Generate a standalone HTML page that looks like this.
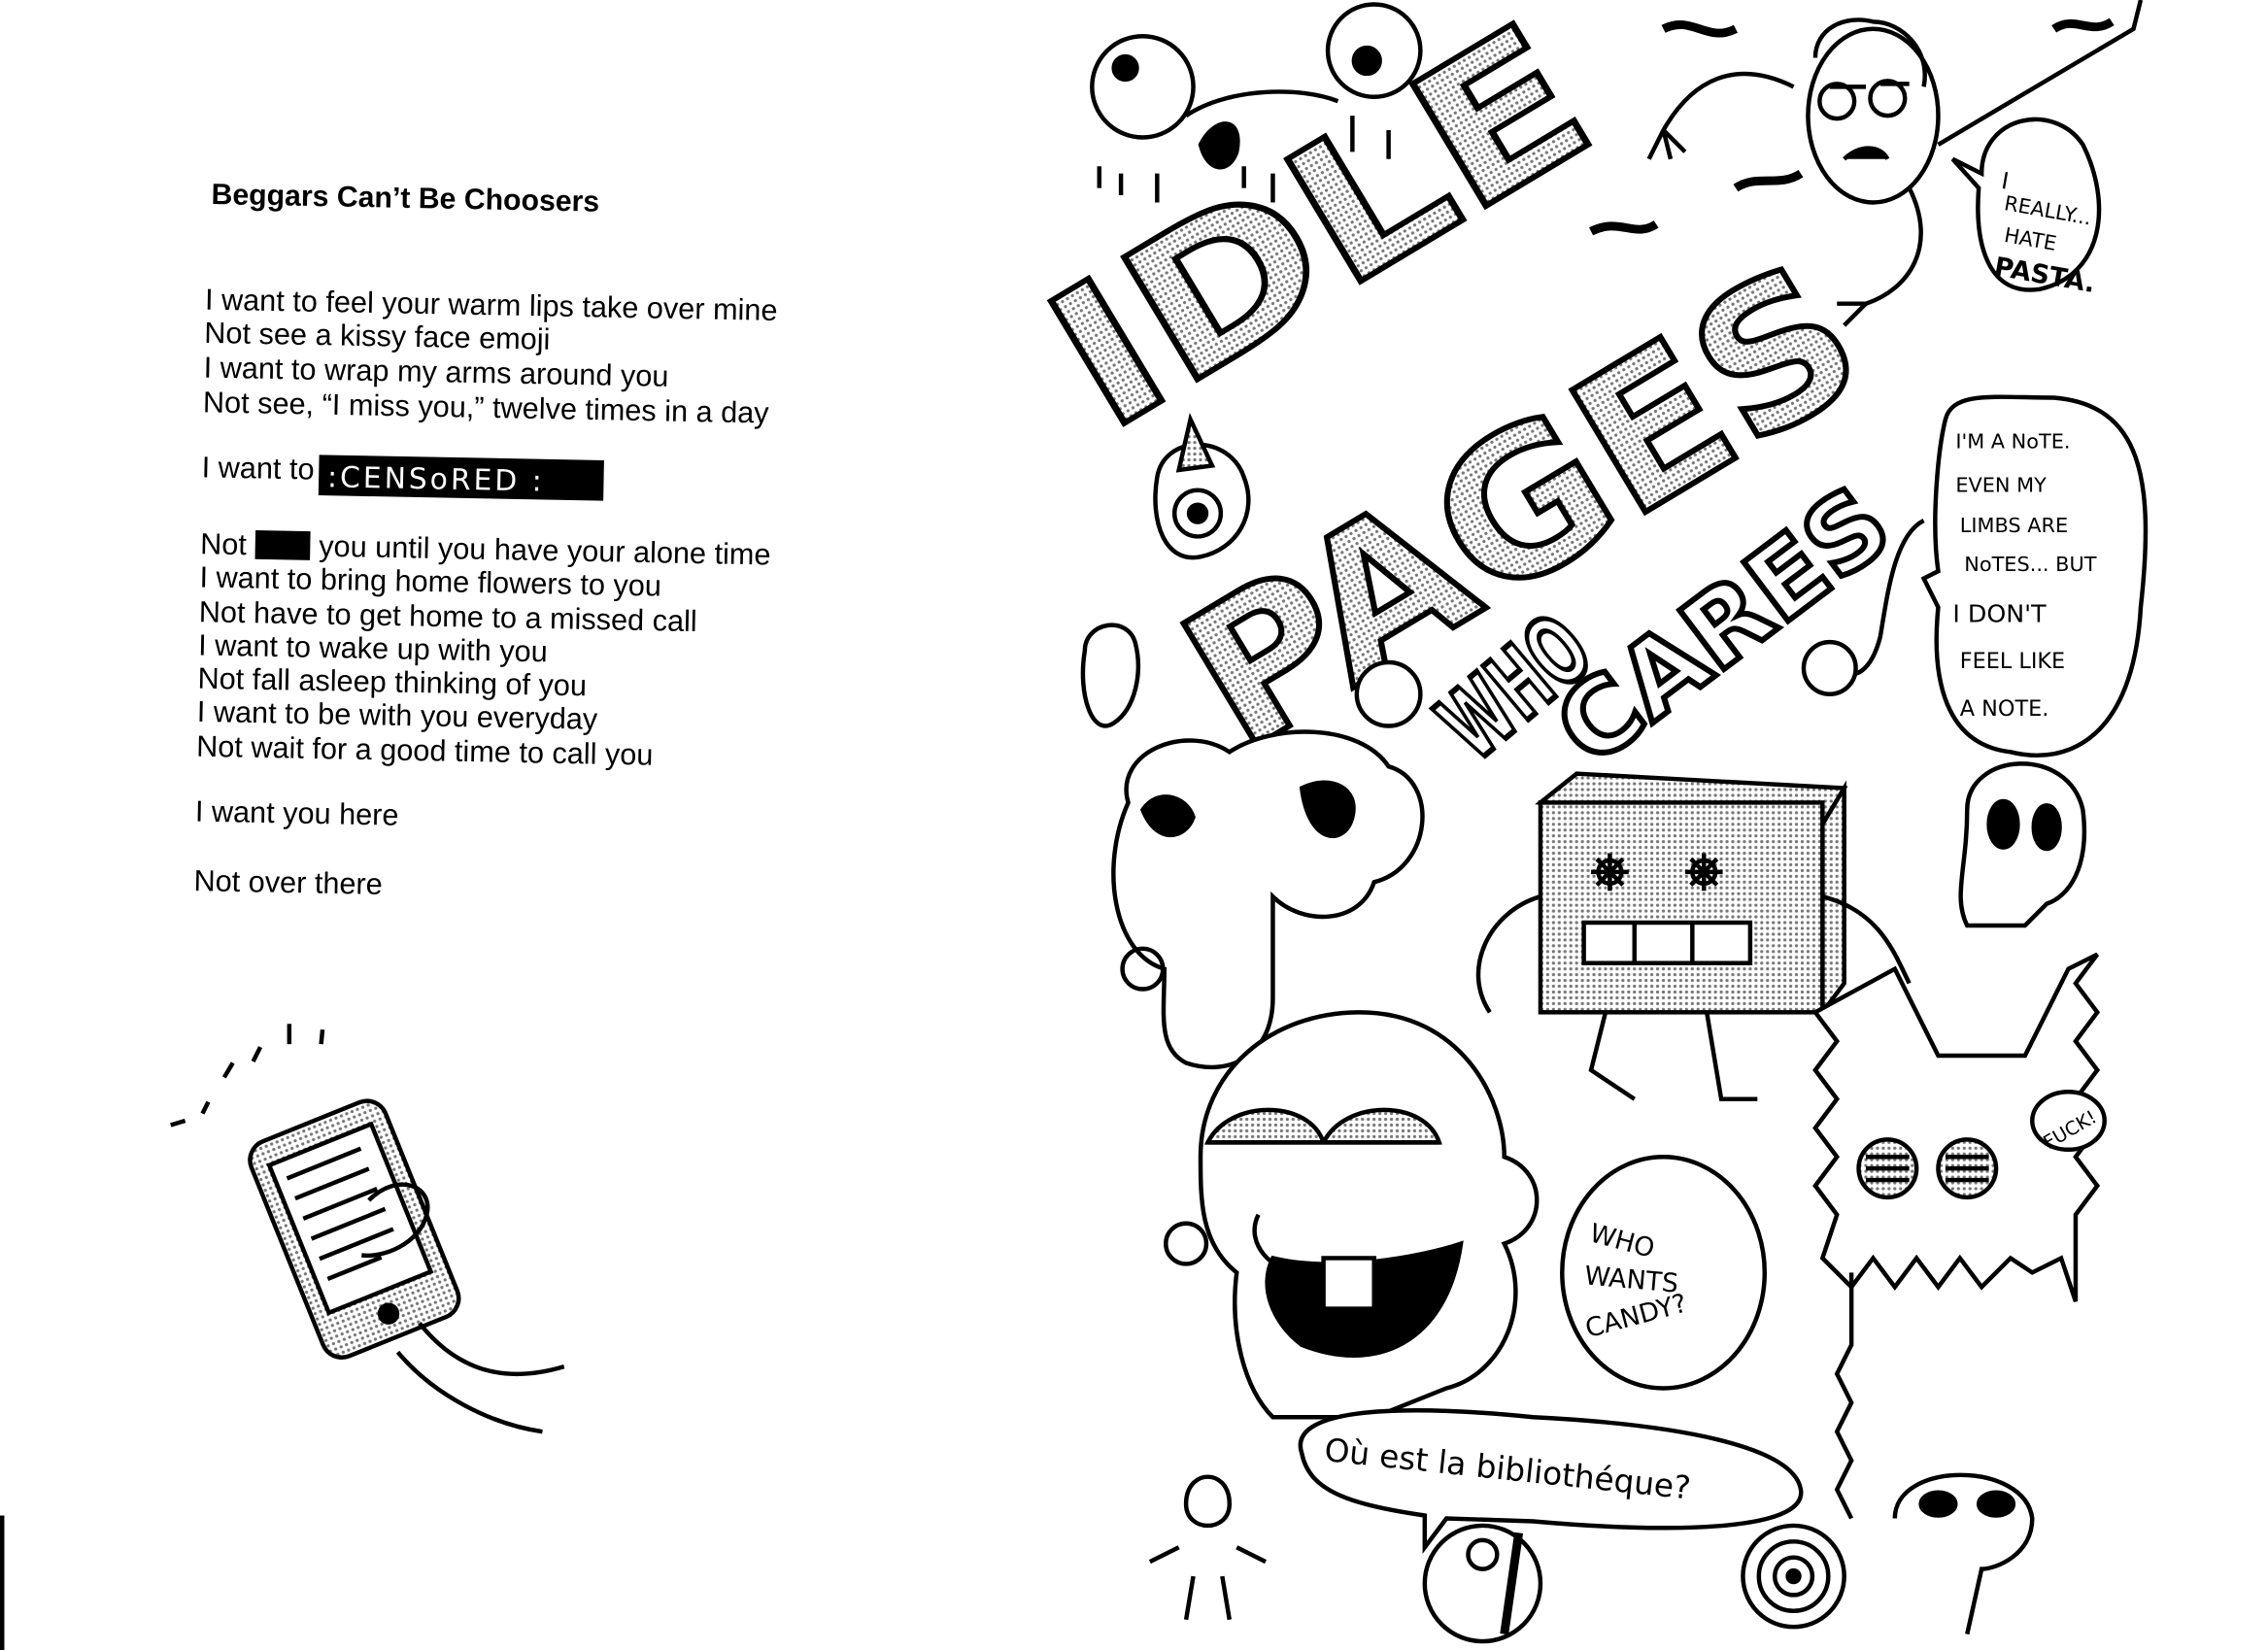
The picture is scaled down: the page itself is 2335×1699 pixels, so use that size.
<!DOCTYPE html>
<html><head><meta charset="utf-8">
<style>
html,body{margin:0;padding:0;background:#fff;}
svg{display:block;}
.p{font-family:"Liberation Sans",Arial,sans-serif;font-size:20.6px;fill:#000;}
.h{font-family:"Liberation Sans",Arial,sans-serif;font-size:20.3px;font-weight:bold;}
.hw{font-family:"DejaVu Sans","Liberation Sans",sans-serif;fill:#000;}
.big{font-family:"DejaVu Sans","Liberation Sans",sans-serif;font-weight:bold;fill:url(#dots);stroke:#000;stroke-width:4;}
</style></head><body>
<svg width="2335" height="1699" viewBox="0 0 1568 1141" preserveAspectRatio="none" xmlns="http://www.w3.org/2000/svg">
<defs>
<pattern id="dots" width="4" height="4" patternUnits="userSpaceOnUse"><rect width="4" height="4" fill="#fff"/><circle cx="2" cy="2" r="1.1" fill="#777"/></pattern>
</defs>
<rect width="1568" height="1141" fill="#fff"/>
<!-- poem -->
<g transform="rotate(1.1 143 140)">
<text class="h" x="146" y="141">Beggars Can’t Be Choosers</text>
<text class="p" x="143" y="214">I want to feel your warm lips take over mine</text>
<text class="p" x="143" y="237">Not see a kissy face emoji</text>
<text class="p" x="143" y="261">I want to wrap my arms around you</text>
<text class="p" x="143" y="285">Not see, “I miss you,” twelve times in a day</text>
<text class="p" x="143" y="330">I want to</text>
<rect x="224" y="313" width="197" height="28" fill="#000"/>
<text class="hw" x="230" y="335" font-size="20" style="fill:#fff;letter-spacing:2px">:CENSoRED :</text>
<text class="p" x="143" y="383">Not</text>
<rect x="181" y="366" width="38" height="20" fill="#000"/>
<text class="p" x="225" y="383">you until you have your alone time</text>
<text class="p" x="143" y="406">I want to bring home flowers to you</text>
<text class="p" x="143" y="430">Not have to get home to a missed call</text>
<text class="p" x="143" y="453">I want to wake up with you</text>
<text class="p" x="143" y="476">Not fall asleep thinking of you</text>
<text class="p" x="143" y="499">I want to be with you everyday</text>
<text class="p" x="143" y="523">Not wait for a good time to call you</text>
<text class="p" x="143" y="568">I want you here</text>
<text class="p" x="143" y="616">Not over there</text>
</g>
<!-- phone -->
<g fill="none" stroke="#000" stroke-width="3">
<path d="M118 778 L128 775 M140 770 l4 -8 M155 745 l6 -10 M175 734 l5 -10 M200 722 l0 -14 M222 722 l1 -10"/>
<g transform="rotate(-22 245 850)">
<rect x="195" y="770" width="100" height="160" rx="14" fill="url(#dots)"/>
<rect x="207" y="787" width="76" height="110" fill="#fff"/>
<path d="M215 800 h55 M215 815 h55 M215 830 h55 M215 845 h55 M215 860 h55 M215 875 h40"/>
<circle cx="245" cy="913" r="6" fill="#000"/>
</g>
<path d="M290 915 C310 940 340 960 390 945 M275 935 C300 965 340 985 375 990"/>
<path d="M255 830 c20 -20 45 -10 40 10 c-5 20 -30 30 -45 28"/>
</g>
<!-- right side -->
<g stroke="#000" stroke-width="3" fill="none">
<!-- monster top left -->
<circle cx="790" cy="60" r="35" fill="#fff"/><circle cx="778" cy="47" r="8" fill="#000"/>
<circle cx="950" cy="35" r="32" fill="#fff"/><circle cx="945" cy="42" r="9" fill="#000"/>
<path d="M820 80 C850 60 900 60 925 70" />
<path d="M830 100 c10 -20 30 -20 25 5 c-5 15 -20 15 -25 -5z" fill="#000"/>
<path d="M760 115 v15 M775 120 v15 M800 120 v20 M860 115 v15 M880 120 v20 M905 115 v20 M935 80 v25 M960 90 v20"/>
<!-- big letters -->
<text class="big" x="765" y="300" font-size="135" textLength="400" lengthAdjust="spacingAndGlyphs" transform="rotate(-31 765 300)">IDLE</text>
<text class="big" x="858" y="522" font-size="135" textLength="510" lengthAdjust="spacingAndGlyphs" transform="rotate(-31 858 522)">PAGES</text>
<text x="1020" y="528" font-size="66" textLength="110" lengthAdjust="spacingAndGlyphs" font-family="DejaVu Sans" font-weight="bold" fill="#fff" stroke="#000" stroke-width="4" transform="rotate(-40 1020 528)">WHO</text>
<text x="1100" y="532" font-size="70" textLength="265" lengthAdjust="spacingAndGlyphs" font-family="DejaVu Sans" font-weight="bold" fill="#fff" stroke="#000" stroke-width="4" transform="rotate(-37 1100 532)">CARES</text>
<!-- pasta guy -->
<ellipse cx="1295" cy="80" rx="45" ry="60" fill="#fff"/>
<circle cx="1270" cy="70" r="12"/><circle cx="1305" cy="68" r="12"/>
<path d="M1265 60 h25 M1300 58 h20"/>
<path d="M1275 110 c10 -10 25 -10 30 0" fill="#000"/>
<path d="M1255 40 c0 -20 20 -30 40 -25 c20 0 40 20 35 45"/>
<path d="M1240 60 C1200 40 1170 55 1150 90 M1150 90 l-10 20 M1150 90 l5 20 M1150 90 l15 15"/>
<path d="M1320 130 C1340 170 1320 200 1290 210 M1290 210 l-20 0 M1290 210 l-15 15"/>
<path d="M1340 100 L1475 20 L1480 0"/>
<path d="M1370 120 C1370 80 1420 70 1440 100 C1460 140 1455 190 1410 200 C1375 205 1365 170 1368 130 L1350 110 Z" fill="#fff"/>
<path d="M1150 20 c20 -10 30 10 50 0 M1420 20 c15 -10 25 5 40 -5 M1200 130 c15 -10 30 0 45 -10 M1100 160 c20 -10 30 5 45 -5" stroke-width="6"/>
<!-- note bubble -->
<path d="M1345 290 C1350 270 1380 275 1420 275 C1480 280 1490 330 1480 420 C1475 510 1430 530 1390 520 C1345 515 1335 470 1340 420 L1330 400 L1340 395 C1335 360 1340 310 1345 290Z" fill="#fff"/>
<path d="M1330 360 C1310 370 1305 410 1300 440 C1295 460 1285 470 1275 465"/>
<circle cx="1265" cy="462" r="18" fill="#fff"/>
<!-- blob faces left -->
<path d="M800 330 c5 -30 50 -30 60 0 c10 25 -5 50 -30 55 c-25 5 -35 -25 -30 -55z" fill="#fff"/>
<circle cx="828" cy="355" r="16"/><circle cx="828" cy="355" r="6" fill="#000"/>
<path d="M815 325 L823 290 L838 322 Z" fill="url(#dots)"/>
<path d="M750 450 c0 -20 30 -25 35 -5 c5 20 0 45 -15 55 c-15 10 -25 -20 -20 -50z" fill="#fff"/>
<circle cx="960" cy="480" r="22" fill="#fff"/>
<!-- cloud face -->
<path d="M780 555 C770 520 820 500 850 520 C880 500 940 500 960 530 C995 540 990 600 950 610 C940 640 900 640 880 620 L880 690 C880 730 850 745 820 735 C800 725 805 700 805 670 C770 660 760 600 780 555Z" fill="#fff"/>
<path d="M790 560 c10 -15 30 -10 35 5 c-5 15 -25 20 -35 -5z M900 545 c20 -10 40 0 35 20 c-5 20 -30 20 -35 -20z" fill="#000"/>
<circle cx="790" cy="670" r="14"/>
<!-- box robot -->
<path d="M1065 555 L1090 535 L1275 545 L1260 570 Z" fill="url(#dots)"/>
<path d="M1260 570 L1275 545 L1275 680 L1260 700 Z" fill="url(#dots)"/>
<rect x="1065" y="555" width="195" height="145" fill="url(#dots)"/>
<rect x="1095" y="638" width="115" height="28" fill="#fff"/><path d="M1130 638 v28 M1170 638 v28"/>
<circle cx="1113" cy="603" r="8" fill="#fff"/><circle cx="1178" cy="603" r="8" fill="#fff"/>
<path d="M1100 603 l26 0 M1113 590 v26 M1104 594 l18 18 M1122 594 l-18 18 M1165 603 l26 0 M1178 590 v26 M1169 594 l18 18 M1187 594 l-18 18"/>
<path d="M1065 620 C1030 630 1010 670 1030 700 M1260 620 C1300 630 1310 660 1320 680"/>
<path d="M1110 700 L1100 740 L1130 760 M1180 700 L1190 760 L1215 760"/>
<!-- skull -->
<path d="M1360 560 C1360 520 1430 515 1440 560 C1445 600 1430 620 1415 625 L1400 640 L1360 640 C1350 620 1360 600 1360 560Z" fill="#fff"/>
<ellipse cx="1385" cy="570" rx="10" ry="16" fill="#000"/><ellipse cx="1415" cy="572" rx="9" ry="15" fill="#000"/>
<!-- big bald face -->
<path d="M830 800 C830 740 880 700 940 700 C1010 700 1040 760 1040 800 C1070 810 1070 850 1040 860 C1060 900 1040 950 1000 960 L950 980 L880 980 C860 960 850 920 855 880 C830 860 830 830 830 800Z" fill="#fff"/>
<path d="M835 790 c15 -30 70 -30 80 0 z M915 790 c15 -30 70 -30 80 0 z" fill="url(#dots)"/>
<path d="M835 790 h80 M915 790 h80"/>
<path d="M870 840 C860 860 880 880 900 880" />
<path d="M880 870 C920 880 980 870 1010 860 C1000 930 950 950 900 930 C880 915 870 890 880 870Z" fill="#000"/>
<rect x="915" y="870" width="35" height="35" fill="#fff"/>
<circle cx="820" cy="860" r="14"/>
<!-- candy bubble -->
<ellipse cx="1150" cy="880" rx="70" ry="80" fill="#fff"/>
<!-- spiky monster -->
<path d="M1255 700 l15 20 l-15 20 l15 20 l-15 20 l15 20 l-15 20 l15 20 l-10 30 l20 20 l15 -20 l15 20 l15 -20 l15 20 l15 -20 l15 20 l20 -20 l15 10 l20 -10 l10 30 l0 -60 l15 -20 l-15 -20 l15 -20 l-15 -20 l15 -20 l-15 -20 l15 -20 l-15 -20 l15 -20 l-20 10 l-30 60 l-60 0 l-30 -60 z" fill="#fff"/>
<circle cx="1305" cy="808" r="20" fill="url(#dots)"/><circle cx="1360" cy="808" r="20" fill="url(#dots)"/>
<path d="M1290 800 h30 M1290 808 h30 M1290 816 h30 M1345 800 h30 M1345 808 h30 M1345 816 h30"/>
<path d="M1280 880 l0 50 l-10 20 l10 20 l-10 20 l10 20 l-10 20 l10 20"/>
<ellipse cx="1430" cy="775" rx="25" ry="20" fill="#fff"/>
<!-- library bubble -->
<path d="M900 1005 C890 975 960 970 1060 980 C1160 985 1240 1000 1245 1030 C1250 1060 1150 1060 1060 1052 L1000 1050 L985 1070 L985 1048 C930 1040 905 1030 900 1005Z" fill="#fff"/>
<!-- bottom -->
<circle cx="1025" cy="1095" r="40" fill="#fff"/><circle cx="1025" cy="1075" r="10"/><path d="M1050 1060 l-10 70" stroke-width="6"/>
<circle cx="1240" cy="1090" r="35"/><circle cx="1240" cy="1090" r="24"/><circle cx="1240" cy="1090" r="13"/><circle cx="1240" cy="1090" r="4" fill="#000"/>
<path d="M1310 1050 C1310 1010 1400 1010 1405 1050 C1405 1075 1380 1085 1370 1085 L1360 1130" fill="#fff"/>
<ellipse cx="1340" cy="1040" rx="12" ry="8" fill="#000"/><ellipse cx="1380" cy="1040" rx="12" ry="8" fill="#000"/>
<path d="M820 1040 c0 -25 30 -25 30 0 c0 20 -30 20 -30 0 M815 1070 l-20 10 M855 1070 l20 10 M825 1090 l-5 30 M845 1090 l5 30"/>
</g>
<!-- handwriting -->
<g class="hw" font-size="16">
<text x="1383" y="130" transform="rotate(10 1383 130)">I</text>
<text x="1385" y="145" font-size="14" transform="rotate(10 1385 145)">REALLY...</text>
<text x="1385" y="167" font-size="14" transform="rotate(10 1385 167)">HATE</text>
<text x="1378" y="190" font-size="18" font-weight="bold" transform="rotate(10 1378 190)">PASTA.</text>
<text x="1352" y="310" font-size="14">I'M A NoTE.</text>
<text x="1352" y="340" font-size="14">EVEN MY</text>
<text x="1355" y="368" font-size="14">LIMBS ARE</text>
<text x="1358" y="395" font-size="14">NoTES... BUT</text>
<text x="1350" y="430" font-size="17">I DON'T</text>
<text x="1355" y="462" font-size="15">FEEL LIKE</text>
<text x="1355" y="495" font-size="15">A NOTE.</text>
<text x="1098" y="858" font-size="18" transform="rotate(15 1098 858)">WHO</text>
<text x="1095" y="888" font-size="18" transform="rotate(5 1095 888)">WANTS</text>
<text x="1098" y="925" font-size="18" transform="rotate(-15 1098 925)">CANDY?</text>
<text x="1416" y="795" font-size="13" transform="rotate(-30 1416 795)">FUCK!</text>
<text x="915" y="1010" font-size="22" transform="rotate(6 915 1010)">Où est la bibliothéque?</text>
</g>
<rect x="0" y="1048" width="3" height="93" fill="#000"/>
</svg>
</body></html>
